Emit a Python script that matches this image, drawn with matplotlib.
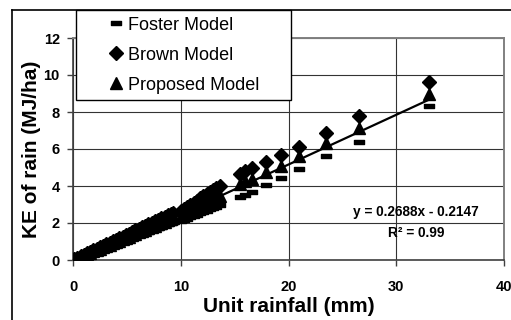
import matplotlib
matplotlib.use("Agg")
import matplotlib.pyplot as plt
from matplotlib.lines import Line2D
from matplotlib.path import Path
import numpy as np

plt.rcParams['font.family'] = ['Liberation Sans', 'DejaVu Sans']

# ---- data ----
rainfall = [0.1, 0.4, 0.7, 1.0, 1.3, 1.6, 1.9, 2.2, 2.5, 2.8, 3.1, 3.4, 3.7, 4.0,
            4.3, 4.6, 4.9, 5.2, 5.5, 5.8, 6.1, 6.4, 6.7, 7.0, 7.3, 7.6, 7.9, 8.2,
            8.5, 8.8, 9.1, 9.3,
            10.0, 10.3, 10.6, 10.9, 11.2, 11.5, 11.8, 12.1, 12.4, 12.7, 13.0, 13.3, 13.6,
            15.5, 16.0, 16.6, 17.9, 19.3, 21.0, 23.5, 26.5, 33.0]

brown = [0.03, 0.11, 0.19, 0.28, 0.36, 0.44, 0.52, 0.61, 0.69, 0.77, 0.85, 0.94, 1.02, 1.10,
         1.18, 1.27, 1.35, 1.43, 1.51, 1.60, 1.68, 1.76, 1.84, 1.93, 2.01, 2.09, 2.17, 2.26,
         2.34, 2.42, 2.50, 2.56,
         2.65, 2.76, 2.88, 2.99, 3.10, 3.21, 3.33, 3.44, 3.55, 3.66, 3.78, 3.89, 4.00,
         4.65, 4.80, 4.95, 5.30, 5.70, 6.12, 6.85, 7.80, 9.60]

proposed = [0.02, 0.10, 0.17, 0.25, 0.32, 0.39, 0.47, 0.54, 0.61, 0.69, 0.76, 0.83, 0.91, 0.98,
            1.05, 1.13, 1.20, 1.27, 1.35, 1.42, 1.49, 1.57, 1.64, 1.72, 1.79, 1.86, 1.94, 2.01,
            2.08, 2.16, 2.23, 2.28,
            2.40, 2.49, 2.57, 2.66, 2.75, 2.84, 2.92, 3.01, 3.10, 3.18, 3.27, 3.36, 3.44,
            4.10, 4.25, 4.40, 4.75, 5.10, 5.60, 6.35, 7.15, 8.95]

foster = [0.02, 0.09, 0.15, 0.22, 0.29, 0.35, 0.42, 0.48, 0.55, 0.62, 0.68, 0.75, 0.81, 0.88,
          0.95, 1.01, 1.08, 1.14, 1.21, 1.28, 1.34, 1.41, 1.47, 1.54, 1.61, 1.67, 1.74, 1.80,
          1.87, 1.94, 2.00, 2.05,
          2.10, 2.17, 2.24, 2.31, 2.38, 2.45, 2.52, 2.60, 2.67, 2.74, 2.81, 2.88, 2.95,
          3.40, 3.50, 3.68, 4.05, 4.42, 4.93, 5.60, 6.40, 8.30]

trend_slope = 0.2688
trend_intercept = -0.2147
r_squared = 0.99

series_labels = ["Foster Model", "Brown Model", "Proposed Model"]
x_ticks = [0, 10, 20, 30, 40]
y_ticks = [0, 2, 4, 6, 8, 10, 12]

# ---- figure ----
W, H = 511, 320
fig = plt.figure(figsize=(W / 100, H / 100), dpi=100)
ax = fig.add_axes([73 / W, 60 / H, 431 / W, 222 / H])

dash_marker = Path([(-1, -0.42), (1, -0.42), (1, 0.42), (-1, 0.42), (-1, -0.42)],
                   [Path.MOVETO, Path.LINETO, Path.LINETO, Path.LINETO, Path.CLOSEPOLY])

x = np.array(rainfall)
ax.plot(x, foster, linestyle='none', marker=dash_marker, ms=7.2, color='black',
        label=series_labels[0], zorder=3)
ax.plot(x, brown, linestyle='none', marker='D', ms=7.0, color='black',
        label=series_labels[1], zorder=3)
ax.plot(x, proposed, linestyle='none', marker='^', ms=8.5, color='black',
        label=series_labels[2], zorder=3)

xt = np.array([x.min(), x.max()])
ax.plot(xt, trend_slope * xt + trend_intercept, color='black', lw=1.6, zorder=4)

ax.set_xlim(0, 40)
ax.set_ylim(0, 12)
ax.set_xticks(x_ticks)
ax.set_yticks(y_ticks)
ax.grid(True, color='#333333', lw=0.8)
ax.set_axisbelow(True)

for side in ['top', 'right']:
    ax.spines[side].set_color('#808080')
    ax.spines[side].set_linewidth(1.4)
for side in ['left', 'bottom']:
    ax.spines[side].set_color('#404040')
    ax.spines[side].set_linewidth(1.2)

ax.tick_params(axis='both', direction='out', length=4.5, width=1.0, color='#404040',
               labelsize=10.5)
ax.tick_params(axis='y', pad=5)
ax.tick_params(axis='x', pad=10)
for lab in ax.get_xticklabels() + ax.get_yticklabels():
    lab.set_fontweight('bold')

ax.set_xlabel("Unit rainfall (mm)", fontsize=15, fontweight='bold')
ax.set_ylabel("KE of rain (MJ/ha)", fontsize=15, fontweight='bold')
ax.xaxis.set_label_coords(0.5, -0.165)
ax.yaxis.set_label_coords(-0.074, 0.5)

ax.text(0.796, 0.216, f"y = {trend_slope}x - {abs(trend_intercept)}", transform=ax.transAxes,
        ha='center', va='center', fontsize=9.8, fontweight='bold')
ax.text(0.796, 0.12, f"R\u00b2 = {r_squared}", transform=ax.transAxes,
        ha='center', va='center', fontsize=9.8, fontweight='bold')

# legend
leg = ax.legend(loc='upper left',
                bbox_to_anchor=(76 / W, 1 - 10 / H, (291 - 76) / W, 0.0),
                bbox_transform=fig.transFigure, mode='expand', borderaxespad=0,
                fontsize=13, frameon=True, fancybox=False, edgecolor='black',
                framealpha=1, borderpad=0.36, labelspacing=0.72,
                handlelength=3.72, handletextpad=-1.2, numpoints=1)
leg.get_frame().set_linewidth(1.0)
leg.set_zorder(10)

# chart-area border (left and top visible)
fig.add_artist(Line2D([11.5 / W, 11.5 / W], [0, 1 - 10 / H], transform=fig.transFigure,
                      color='black', lw=1.2))
fig.add_artist(Line2D([11.5 / W, 1], [1 - 10 / H, 1 - 10 / H], transform=fig.transFigure,
                      color='black', lw=1.2))

fig.savefig("out.png", dpi=100)
